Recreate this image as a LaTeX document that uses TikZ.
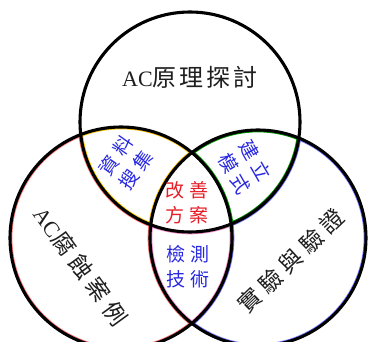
\documentclass[tikz,border=0pt]{standalone}
\usepackage{fontspec}
\setmainfont{Liberation Serif}
\newfontfamily\cjk{Noto Sans CJK TC}
\newcommand\cg{\hspace{5pt}}
\definecolor{blueT}{RGB}{40,40,225}
\definecolor{redT}{RGB}{230,30,40}
\definecolor{darkT}{RGB}{30,30,30}
\tikzset{
  ring/.style={draw=black, line width=3.1pt},
  fringe/.style={line width=4.7pt},
  outer/.style={font=\cjk\fontsize{24}{24}\selectfont, text=darkT, inner sep=0pt},
  lens/.style={font=\cjk\fontsize{19}{25}\selectfont, align=center, inner sep=0pt},
}
\begin{document}
\begin{tikzpicture}[x=1pt,y=-1pt]
\useasboundingbox (0,0) rectangle (370,342);
\fill[white] (0,0) rectangle (370,342);
\coordinate (T) at (190,122);
\coordinate (L) at (121,238);
\coordinate (R) at (258,238);
% coloured inner fringes
% left only: red
\begin{scope}
  \clip (L) circle[radius=111];
  \begin{scope}[even odd rule]
    \clip (-30,-30) rectangle (400,380) (T) circle[radius=110];
    \clip (-30,-30) rectangle (400,380) (R) circle[radius=108];
    \draw[fringe, red!55] (L) circle[radius=111] (T) circle[radius=110] (R) circle[radius=108];
  \end{scope}
\end{scope}
% right only: blue
\begin{scope}
  \clip (R) circle[radius=108];
  \begin{scope}[even odd rule]
    \clip (-30,-30) rectangle (400,380) (T) circle[radius=110];
    \clip (-30,-30) rectangle (400,380) (L) circle[radius=111];
    \draw[fringe, blue!55] (L) circle[radius=111] (T) circle[radius=110] (R) circle[radius=108];
  \end{scope}
\end{scope}
% top-left lens: yellow
\begin{scope}
  \clip (T) circle[radius=110];
  \clip (L) circle[radius=111];
  \begin{scope}[even odd rule]
    \clip (-30,-30) rectangle (400,380) (R) circle[radius=108];
    \draw[fringe, orange!45!yellow] (L) circle[radius=111] (T) circle[radius=110] (R) circle[radius=108];
  \end{scope}
\end{scope}
% top-right lens: green
\begin{scope}
  \clip (T) circle[radius=110];
  \clip (R) circle[radius=108];
  \begin{scope}[even odd rule]
    \clip (-30,-30) rectangle (400,380) (L) circle[radius=111];
    \draw[fringe, green!60!black] (L) circle[radius=111] (T) circle[radius=110] (R) circle[radius=108];
  \end{scope}
\end{scope}
% bottom lens: pink
\begin{scope}
  \clip (L) circle[radius=111];
  \clip (R) circle[radius=108];
  \begin{scope}[even odd rule]
    \clip (-30,-30) rectangle (400,380) (T) circle[radius=110];
    \draw[fringe, magenta!45] (L) circle[radius=111] (T) circle[radius=110] (R) circle[radius=108];
  \end{scope}
\end{scope}
% black rings
\draw[ring] (T) circle[radius=110];
\draw[ring] (L) circle[radius=111];
\draw[ring] (R) circle[radius=108];
% labels
\node[outer] (tTop) at (190,77) {{\rmfamily\fontsize{22}{22}\selectfont AC}原\hspace{3pt}理\hspace{3pt}探\hspace{3pt}討};
\node[outer, rotate=-54, font=\cjk\fontsize{23}{23}\selectfont] (tLeft) at (81,266) {{\rmfamily\fontsize{22}{22}\selectfont AC}腐\hspace{6pt}蝕\hspace{6pt}案\hspace{6pt}例};
\node[outer, rotate=44, font=\cjk\fontsize{23}{23}\selectfont] (tRight) at (291,261) {實\hspace{5.5pt}驗\hspace{5.5pt}與\hspace{5.5pt}驗\hspace{5.5pt}證};
\node[lens, text=blueT, rotate=55] (tTL) at (126,163) {資\cg 料\\搜\cg 集};
\node[lens, text=blueT, rotate=-60] (tTR) at (245,167) {建\cg 立\\模\cg 式};
\node[lens, text=redT] (tC) at (187,203) {改\cg 善\\方\cg 案};
\node[lens, text=blueT] (tB) at (188,267) {檢\cg 測\\技\cg 術};
\end{tikzpicture}
\end{document}
